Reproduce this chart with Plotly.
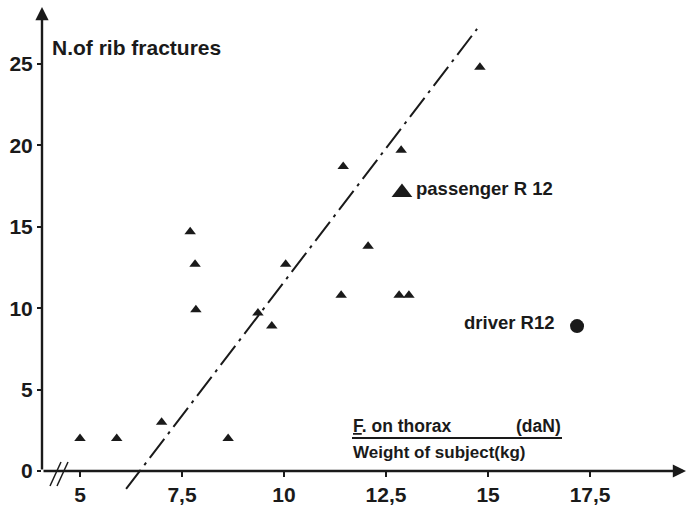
import plotly.graph_objects as go

# ---- data ----
tri_x = [5.0, 5.9, 7.0, 8.63, 7.70, 7.82, 7.84, 10.04, 9.70, 9.36, 11.45, 12.87, 12.06, 11.40, 12.82, 13.06, 14.8]
tri_y = [2.0, 2.0, 3.0, 2.0, 14.7, 12.7, 9.9, 12.7, 8.9, 9.7, 18.7, 19.7, 13.8, 10.8, 10.8, 10.8, 24.8]
passenger_x = [12.89]
passenger_y = [17.1]
driver_x = [17.18]
driver_y = [8.9]
trend_x = [6.13, 14.73]
trend_y = [-1.1, 27.15]

x_tickvals = [5, 7.5, 10, 12.5, 15, 17.5]
x_ticktext = ["5", "7,5", "10", "12,5", "15", "17,5"]
y_tickvals = [0, 5, 10, 15, 20, 25]
y_ticktext = ["0", "5", "10", "15", "20", "25"]

INK = "#1a1a1a"
FONT = "Liberation Sans Narrow, Liberation Sans, Arial, sans-serif"

W, H = 689, 505
ML, MR, MT, MB = 42, 3, 5, 5
XR = [4.069, 19.85]
YR = [-1.78, 28.62]


def px2x(px):
    return XR[0] + (px - ML) / (W - ML - MR) * (XR[1] - XR[0])


def py2y(py):
    return YR[1] - (py - MT) / (H - MT - MB) * (YR[1] - YR[0])


def tfont(size):
    return dict(family=FONT, size=size, color=INK, weight="bold")


fig = go.Figure()

fig.add_trace(go.Scatter(
    x=trend_x, y=trend_y, mode="lines",
    line=dict(color=INK, width=2, dash="24px,6px,3px,6px"),
    hoverinfo="skip", showlegend=False,
))
fig.add_trace(go.Scatter(
    x=tri_x, y=tri_y, mode="markers",
    marker=dict(symbol="triangle-up", size=10, color=INK),
    showlegend=False,
))
fig.add_trace(go.Scatter(
    x=passenger_x, y=passenger_y, mode="markers",
    marker=dict(symbol="triangle-up", size=18, color=INK),
    showlegend=False,
))
fig.add_trace(go.Scatter(
    x=driver_x, y=driver_y, mode="markers",
    marker=dict(symbol="circle", size=14, color=INK),
    showlegend=False,
))

x0 = XR[0]
annotations = [
    # axes arrows
    dict(x=px2x(686), y=0, ax=x0, ay=0, xref="x", yref="y", axref="x", ayref="y",
         text="", showarrow=True, arrowhead=2, arrowsize=1.1, arrowwidth=2.4,
         arrowcolor=INK, standoff=0, startstandoff=0),
    dict(x=x0, y=py2y(7), ax=x0, ay=0, xref="x", yref="y", axref="x", ayref="y",
         text="", showarrow=True, arrowhead=2, arrowsize=1.1, arrowwidth=2.4,
         arrowcolor=INK, standoff=0, startstandoff=0),
    # texts
    dict(x=px2x(50), y=py2y(47), xref="x", yref="y", text="N.of rib fractures",
         showarrow=False, xanchor="left", yanchor="middle", font=tfont(21)),
    dict(x=px2x(414), y=py2y(188), xref="x", yref="y", text="passenger R 12",
         showarrow=False, xanchor="left", yanchor="middle", font=tfont(18.5)),
    dict(x=px2x(462), y=py2y(322), xref="x", yref="y", text="driver R12",
         showarrow=False, xanchor="left", yanchor="middle", font=tfont(18.5)),
    dict(x=px2x(351), y=py2y(426), xref="x", yref="y", text="<u>F</u>. on thorax",
         showarrow=False, xanchor="left", yanchor="middle", font=tfont(17.5)),
    dict(x=px2x(563), y=py2y(426), xref="x", yref="y", text="(daN)",
         showarrow=False, xanchor="right", yanchor="middle", font=tfont(17.5)),
    dict(x=px2x(351), y=py2y(452), xref="x", yref="y", text="Weight of subject(kg)",
         showarrow=False, xanchor="left", yanchor="middle", font=tfont(17)),
]

shapes = [
    # fraction bar
    dict(type="line", xref="x", yref="y", x0=px2x(352), x1=px2x(562),
         y0=py2y(438), y1=py2y(438), line=dict(color=INK, width=2)),
    # axis break marks
    dict(type="line", xref="x", yref="y", x0=px2x(50), x1=px2x(61),
         y0=py2y(486), y1=py2y(462), line=dict(color=INK, width=1.5)),
    dict(type="line", xref="x", yref="y", x0=px2x(57), x1=px2x(68),
         y0=py2y(486), y1=py2y(462), line=dict(color=INK, width=1.5)),
]

fig.update_layout(
    width=W, height=H,
    autosize=False,
    margin=dict(l=ML, r=MR, t=MT, b=MB, autoexpand=False),
    paper_bgcolor="white", plot_bgcolor="white",
    showlegend=False,
    annotations=annotations,
    shapes=shapes,
    xaxis=dict(
        range=XR, showgrid=False, zeroline=False, showline=False, automargin=False,
        tickvals=x_tickvals, ticktext=x_ticktext,
        ticks="outside", ticklen=5, tickwidth=2, tickcolor=INK,
        tickfont=tfont(21),
        anchor="free", position=(H - MT - MB - (471 - MT)) / (H - MT - MB),
    ),
    yaxis=dict(
        range=YR, showgrid=False, zeroline=False, showline=False, automargin=False,
        tickvals=y_tickvals, ticktext=y_ticktext,
        ticks="outside", ticklen=4, tickwidth=2, tickcolor=INK,
        tickfont=tfont(21),
    ),
)

fig.write_html(
    "out.html",
    config={"displayModeBar": False},
    post_script="document.body.style.margin='0px';document.body.style.overflow='hidden';",
)
